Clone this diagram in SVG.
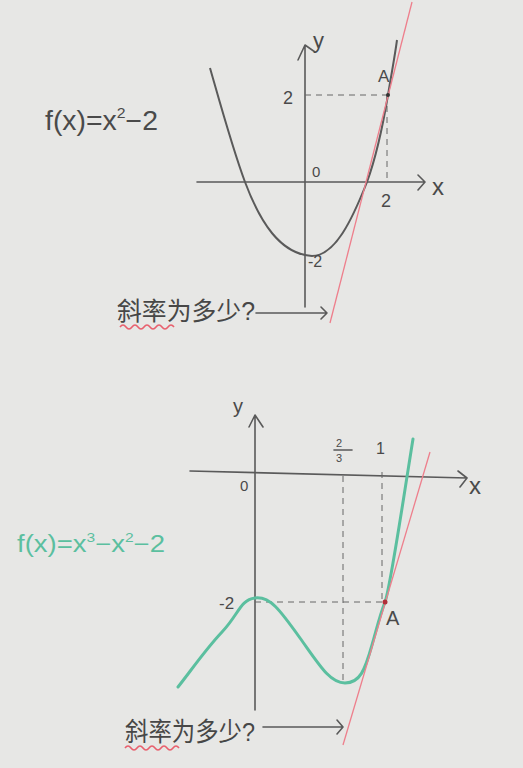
<svg xmlns="http://www.w3.org/2000/svg" width="523" height="768" viewBox="0 0 523 768">
<style>
.ax{fill:none;stroke:#5a5a5a;stroke-width:1.6;stroke-linecap:round;stroke-linejoin:round}
.dash{fill:none;stroke:#666;stroke-width:1;stroke-dasharray:6 5}
.curve{fill:none;stroke:#5a5a5a;stroke-width:2}
.green{fill:none;stroke:#5bbf9f;stroke-width:3;stroke-linecap:round}
.pink{fill:none;stroke:#ee7f8c;stroke-width:1.3}
.wave{fill:none;stroke:#e8606e;stroke-width:1.6}
.lbl{font-family:"Liberation Sans","DejaVu Sans",sans-serif;fill:#4a4a4a}
.cn{font-family:"Liberation Sans","Noto Sans CJK SC",sans-serif;fill:#474747}
.gt{font-family:"Liberation Sans","DejaVu Sans",sans-serif;fill:#5bbf9f}
</style>
<rect width="523" height="768" fill="#e7e7e5"/>
<g id="graph1">
  <g id="axes1">
    <path class="ax" d="M197,182 L425,182 M418,175 L425,182 L418,190"/>
    <path class="ax" d="M305,307 L305,45 M298,60 L305,45 L315,52"/>
  </g>
  <path class="dash" d="M305,95 L388,95 M387,95 L387,182"/>
  <path id="parabola" class="curve" d="M210,68 C222,110 233,150 245,182 C260,222 280,254 312,256 C335,256 352,220 367,182 C375,160 383,125 388,95 S 395,55 397,40"/>
  <path id="tangent1" class="pink" d="M330,323 L412,2"/>
  <circle cx="388" cy="95" r="2" fill="#333"/>
  <text class="lbl" x="378" y="82" font-size="17">A</text>
  <text class="lbl" x="313" y="48" font-size="22">y</text>
  <text class="lbl" x="283" y="104" font-size="18">2</text>
  <text class="lbl" x="312" y="177" font-size="15">0</text>
  <text class="lbl" x="381" y="207" font-size="18">2</text>
  <text class="lbl" x="432" y="195" font-size="24">x</text>
  <text class="lbl" x="308" y="267" font-size="16">-2</text>
  <text class="lbl" x="45" y="130" font-size="27" textLength="113" lengthAdjust="spacingAndGlyphs">f(x)=x<tspan font-size="15" dy="-12">2</tspan><tspan dy="12">−2</tspan></text>
  <text class="cn" x="117" y="320" font-size="25" textLength="138" lengthAdjust="spacingAndGlyphs">斜率为多少?</text>
  <path class="wave" d="M120,327 q3,-4 6,0 t6,0 t6,0 t6,0 t6,0 t6,0 t6,0 t6,0 t6,0"/>
  <path class="ax" d="M256,313 L327,313 M321,307 L327,313 L321,319"/>
</g>
<g id="graph2">
  <g id="axes2">
    <path class="ax" d="M190,471 L467,478 M458,471 L467,478 L460,487"/>
    <path class="ax" d="M255,710 L255,415 M249,427 L255,415 L263,427"/>
  </g>
  <path class="dash" d="M343,476 L343,682 M382,472 L382,602 M255,602 L385,602"/>
  <path id="cubic" class="green" d="M178,687 C190,672 205,650 222,632 S 240,600 255,598 S 280,610 300,638 S 330,683 345,683 S 365,670 372,645 S 380,615 385,602 S 400,520 413,439"/>
  <path id="tangent2" class="pink" d="M343,745 L430,452"/>
  <circle cx="385" cy="602" r="2.5" fill="#b0303a"/>
  <text class="lbl" x="386" y="625" font-size="20">A</text>
  <text class="lbl" x="233" y="413" font-size="20">y</text>
  <text class="lbl" x="240" y="491" font-size="15">0</text>
  <text class="lbl" x="336" y="447" font-size="11">2</text>
  <path class="ax" d="M334,450 L352,450" stroke-width="1"/>
  <text class="lbl" x="336" y="462" font-size="11">3</text>
  <text class="lbl" x="376" y="454" font-size="16">1</text>
  <text class="lbl" x="469" y="494" font-size="24">x</text>
  <text class="lbl" x="219" y="609" font-size="17">-2</text>
  <text class="gt" x="17" y="552" font-size="23" textLength="148" lengthAdjust="spacingAndGlyphs">f(x)=x<tspan font-size="13" dy="-10">3</tspan><tspan dy="10">−x</tspan><tspan font-size="13" dy="-10">2</tspan><tspan dy="10">−2</tspan></text>
  <text class="cn" x="125" y="741" font-size="26" textLength="130" lengthAdjust="spacingAndGlyphs">斜率为多少?</text>
  <path class="wave" d="M125,748 q3,-4 6,0 t6,0 t6,0 t6,0 t6,0 t6,0 t6,0 t6,0 t6,0"/>
  <path class="ax" d="M263,727 L343,727 M337,720 L343,727 L337,734"/>
</g>
</svg>
